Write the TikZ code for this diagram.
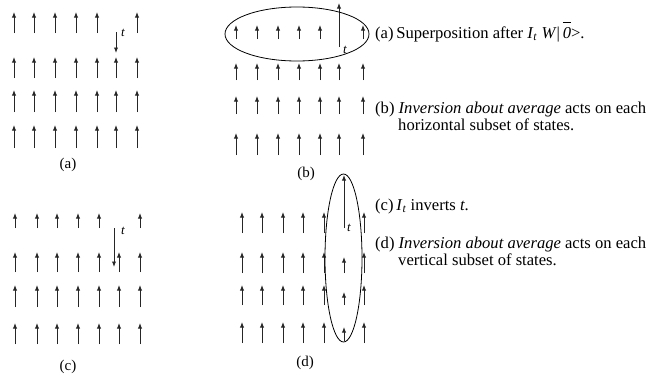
\documentclass[tikz,border=0pt]{standalone}
\usepackage{fontspec}
\setmainfont{Liberation Serif}
\usetikzlibrary{arrows.meta}
\begin{document}
\begin{tikzpicture}[x=1pt,y=-1pt,
  spin/.style={-{Latex[length=5.5pt,width=4.2pt]}, line width=0.9pt, black!85},
  tlab/.style={inner sep=0, font=\fontsize{13}{13}\selectfont\itshape},
  plab/.style={inner sep=0, font=\fontsize{15}{15}\selectfont},
  txt/.style={anchor=base west, inner sep=0, font=\fontsize{16.6}{17}\selectfont},
  oval/.style={draw, line width=0.8pt, black}]
\path[use as bounding box, fill=white] (0,0) rectangle (649,380);

% ---------- panel (a)
\foreach \x [count=\i] in {14,34,55,76,97,116,137}{
  \ifnum\i=6\else\draw[spin] (\x,33) -- (\x,12);\fi
  \draw[spin] (\x,78) -- (\x,57);
  \draw[spin] (\x,112) -- (\x,90);
  \draw[spin] (\x,148) -- (\x,125);
}
\draw[spin] (116,32) -- (116,53);
\node[tlab] (ta) at (123,33) {t};
\node[plab] (la) at (68,165) {(a)};

% ---------- panel (b)
\foreach \x [count=\i] in {236,257,278,299,320,339,363}{
  \ifnum\i=6\else\draw[spin] (\x,39) -- (\x,25);\fi
  \draw[spin] (\x,80) -- (\x,63);
  \draw[spin] (\x,114) -- (\x,96);
  \draw[spin] (\x,155) -- (\x,133);
}
\draw[spin] (339,47) -- (339,3);
\node[tlab] (tb) at (345,50) {t};
\draw[oval] (297,34) ellipse [x radius=72, y radius=27];
\node[plab] (lb) at (306,174) {(b)};

% ---------- panel (c)
\foreach \x [count=\i] in {15,37,57,78,99,119,140}{
  \ifnum\i=6\else\draw[spin] (\x,228) -- (\x,213);\fi
  \draw[spin] (\x,272) -- (\x,252);
  \draw[spin] (\x,307) -- (\x,285);
  \draw[spin] (\x,344) -- (\x,323);
}
\draw[spin] (114,228) -- (114,267);
\node[tlab] (tc) at (123,231) {t};
\node[plab] (lc) at (68,367) {(c)};

% ---------- panel (d)
\foreach \x [count=\i] in {242,262,283,303,324,344,364}{
  \ifnum\i=6\else
  \draw[spin] (\x,233) -- (\x,212);
  \draw[spin] (\x,273) -- (\x,252);
  \draw[spin] (\x,305) -- (\x,285);
  \draw[spin] (\x,343) -- (\x,322);\fi
}
\draw[spin] (344,228) -- (344,175);
\draw[spin] (344,273) -- (344,257);
\draw[spin] (344,305) -- (344,292);
\draw[spin] (344,341) -- (344,327);
\node[tlab] (td) at (349,228) {t};
\draw[oval] (343.5,258) ellipse [x radius=18.5, y radius=84];
\node[plab] (ld) at (305,363) {(d)};

% ---------- captions
\node[txt] (ca) at (375,38) {(a)\,Superposition after \textit{I}\textsubscript{\textit{t}} \textit{W}|\,$\overline{\rule{0pt}{14pt}\mbox{\itshape 0}}$>.};
\node[txt] (cb1) at (375,113) {(b) \textit{Inversion about average} acts on each};
\node[txt] (cb2) at (398,130) {horizontal subset of states.};
\node[txt] (cc) at (375,210) {(c)\,\textit{I}\textsubscript{\textit{t}} inverts \textit{t}.};
\node[txt] (cd1) at (375,248) {(d) \textit{Inversion about average} acts on each};
\node[txt] (cd2) at (398,265) {vertical subset of states.};
\end{tikzpicture}
\end{document}
